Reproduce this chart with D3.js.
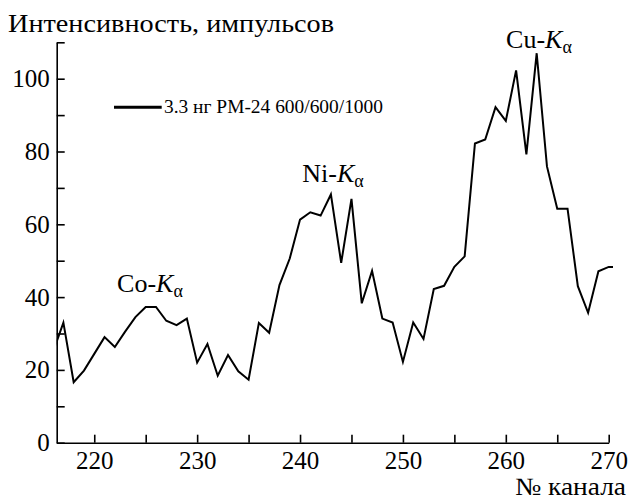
<!DOCTYPE html>
<html>
<head>
<meta charset="utf-8">
<script src="https://cdn.jsdelivr.net/npm/d3@7"></script>
<style>
  body{margin:0;background:#fff;}
  text{font-family:"Liberation Serif","Times New Roman",serif;fill:#000;}
</style>
</head>
<body>
<svg id="chart" width="629" height="499"></svg>
<script>
// channel numbers and counts
let channels=[216,217,218,219,220,221,222,223,224,225,226,227,228,229,230,231,232,233,234,235,
  236,237,238,239,240,241,242,243,244,245,246,247,248,249,250,251,252,253,254,255,
  256,257,258,259,260,261,262,263,264,265,266,267,268,269,270,271];
let counts=[25,33,16.6,19.8,24.4,29,26.3,30.5,34.5,37.3,37.3,33.5,32.3,34.1,22,27.1,18.4,24.1,19.6,17.3,
  32.9,30.2,43.3,50.6,61.3,63.3,62.4,68.2,49.4,67,38.3,47.2,34.1,33,22.2,33,28.5,42.2,43.1,48.3,
  51.2,82.2,83.3,92.2,88.4,102.3,79.2,107,75.9,64.3,64.3,43,35.7,47.1,48.3,48.3];

let xTicks=[220,225,230,235,240,245,250,255,260,265,270];
let yTicks=[0,10,20,30,40,50,60,70,80,90,100,110];

let yTitle="Интенсивность, импульсов";
let xTitle="№ канала";
let legendLabel="3.3 нг РМ-24 600/600/1000";
let peaks=[
  {el:"Co",x:150,y:292},
  {el:"Ni",x:333,y:182},
  {el:"Cu",x:539,y:48}
];

let svg=d3.select("#chart");
let mLeft=56.7, mRight=608.7, mTop=42.3, mBottom=442.7;

let xScale=d3.scaleLinear().domain([216.35,270]).range([mLeft,mRight]);
let yScale=d3.scaleLinear().domain([0,110]).range([mBottom,mTop]);

let data=channels.map(function(c,i){return {ch:c,v:counts[i]};});

svg.append("clipPath").attr("id","clip")
  .append("rect")
  .attr("x",mLeft).attr("y",0)
  .attr("width",613-mLeft).attr("height",mBottom);

let line=d3.line()
  .x(function(d){return xScale(d.ch)})
  .y(function(d){return yScale(d.v)});

svg.append("path")
  .datum(data)
  .attr("clip-path","url(#clip)")
  .attr("fill","none")
  .attr("stroke","#000")
  .attr("stroke-width",2)
  .attr("stroke-linejoin","miter")
  .attr("d",line);

// axes, ticks point inward
let xAxis=svg.append("g")
  .attr("transform","translate(0,"+mBottom+")")
  .call(d3.axisBottom(xScale)
    .tickValues(xTicks)
    .tickSizeInner(-8)
    .tickSizeOuter(0)
    .tickPadding(9)
    .tickFormat(function(d){return d%10===0?d:"";}));

let yAxis=svg.append("g")
  .attr("transform","translate("+mLeft+",0)")
  .call(d3.axisLeft(yScale)
    .tickValues(yTicks)
    .tickSizeInner(-8)
    .tickSizeOuter(0)
    .tickPadding(7)
    .tickFormat(function(d){return (d%20===0&&d<=100)?d:"";}));

[xAxis,yAxis].forEach(function(a){
  a.attr("font-family",null).attr("font-size",null);
  a.selectAll("path,line").attr("stroke","#000").attr("stroke-width",1.6);
  a.selectAll("text").style("font-size","25px").attr("fill","#000");
});

svg.append("text")
  .attr("x",8).attr("y",32)
  .style("font-size","25px")
  .attr("textLength",326)
  .attr("lengthAdjust","spacingAndGlyphs")
  .text(yTitle);

svg.append("text")
  .attr("x",515).attr("y",495)
  .style("font-size","25px")
  .attr("textLength",111)
  .attr("lengthAdjust","spacingAndGlyphs")
  .text(xTitle);

// legend
svg.append("line")
  .attr("x1",114).attr("x2",161.7)
  .attr("y1",107.3).attr("y2",107.3)
  .attr("stroke","#000").attr("stroke-width",3);
svg.append("text")
  .attr("x",164).attr("y",113.3)
  .style("font-size","18px")
  .attr("textLength",219)
  .attr("lengthAdjust","spacingAndGlyphs")
  .text(legendLabel);

// peak labels
let pl=svg.append("g").selectAll("text")
  .data(peaks)
  .enter().append("text")
  .attr("x",function(d){return d.x})
  .attr("y",function(d){return d.y})
  .attr("text-anchor","middle")
  .style("font-size","26px");
pl.append("tspan").text(function(d){return d.el+"-"});
pl.append("tspan").style("font-style","italic").text("K");
pl.append("tspan").attr("dy",5).style("font-size","18px").text("α");
</script>
</body>
</html>
